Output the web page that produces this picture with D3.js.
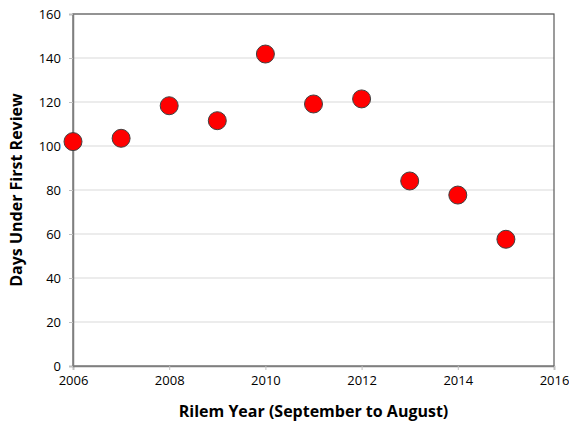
<!DOCTYPE html>
<html>
<head>
<meta charset="utf-8">
<script src="https://cdn.jsdelivr.net/npm/d3@7"></script>
<style>
  body { margin: 0; background: #fff; }
  text { font-family: "Open Sans", "Liberation Sans", sans-serif; }
</style>
</head>
<body>
<div id="chart"></div>
<script>
var years = [2006, 2007, 2008, 2009, 2010, 2011, 2012, 2013, 2014, 2015];
var days = [102, 103.5, 118.3, 111.5, 141.8, 119.1, 121.4, 84.1, 77.7, 57.6];
var xTicks = [2006, 2008, 2010, 2012, 2014, 2016];
var yTicks = [0, 20, 40, 60, 80, 100, 120, 140, 160];

var margin = {top: 14, right: 15, bottom: 57, left: 73},
    width = 569 - margin.left - margin.right,
    height = 423 - margin.top - margin.bottom;

var svg = d3.select("#chart")
  .append("svg")
    .attr("width", 569)
    .attr("height", 423)
  .append("g")
    .attr("transform", "translate(" + margin.left + "," + margin.top + ")");

var x = d3.scaleLinear().domain([2006, 2016]).range([0, width]);
var y = d3.scaleLinear().domain([0, 160]).range([height, 0]);

// gridlines
svg.append("g")
  .selectAll("line")
  .data(yTicks.slice(1))
  .enter().append("line")
    .attr("x1", 0).attr("x2", width)
    .attr("y1", function(d) { return y(d); })
    .attr("y2", function(d) { return y(d); })
    .attr("stroke", "#d9d9d9")
    .attr("stroke-width", 1);

// plot border
svg.append("rect")
  .attr("width", width).attr("height", height)
  .attr("fill", "none")
  .attr("stroke", "#595959")
  .attr("stroke-width", 1.2);

var xAxis = d3.axisBottom(x).tickValues(xTicks).tickFormat(d3.format("d")).tickSize(4).tickPadding(6);
var yAxis = d3.axisLeft(y).tickValues(yTicks).tickSize(4).tickPadding(8);

var gx = svg.append("g")
  .attr("transform", "translate(0," + height + ")")
  .call(xAxis);
var gy = svg.append("g").call(yAxis);

[gx, gy].forEach(function(g) {
  g.select(".domain").attr("stroke", "#7f7f7f").attr("stroke-width", 1.5);
  g.selectAll(".tick line").attr("stroke", "#bfbfbf");
  g.selectAll(".tick text")
    .attr("fill", "#000")
    .style("font-size", "13px")
    .style("font-family", "'Open Sans', sans-serif");
});

// points
svg.append("g")
  .selectAll("circle")
  .data(years)
  .enter().append("circle")
    .attr("cx", function(d) { return x(d); })
    .attr("cy", function(d, i) { return y(days[i]); })
    .attr("r", 9)
    .attr("fill", "#ff0000")
    .attr("stroke", "#404040")
    .attr("stroke-width", 1);

// axis titles
svg.append("text")
  .attr("x", width / 2 + 0)
  .attr("y", height + 51)
  .attr("text-anchor", "middle")
  .style("font-size", "16px")
  .style("font-weight", "bold")
  .text("Rilem Year (September to August)");

svg.append("text")
  .attr("transform", "rotate(-90)")
  .attr("x", -height / 2)
  .attr("y", -margin.left + 22)
  .attr("text-anchor", "middle")
  .style("font-size", "16px")
  .style("font-weight", "bold")
  .text("Days Under First Review");
</script>
</body>
</html>
